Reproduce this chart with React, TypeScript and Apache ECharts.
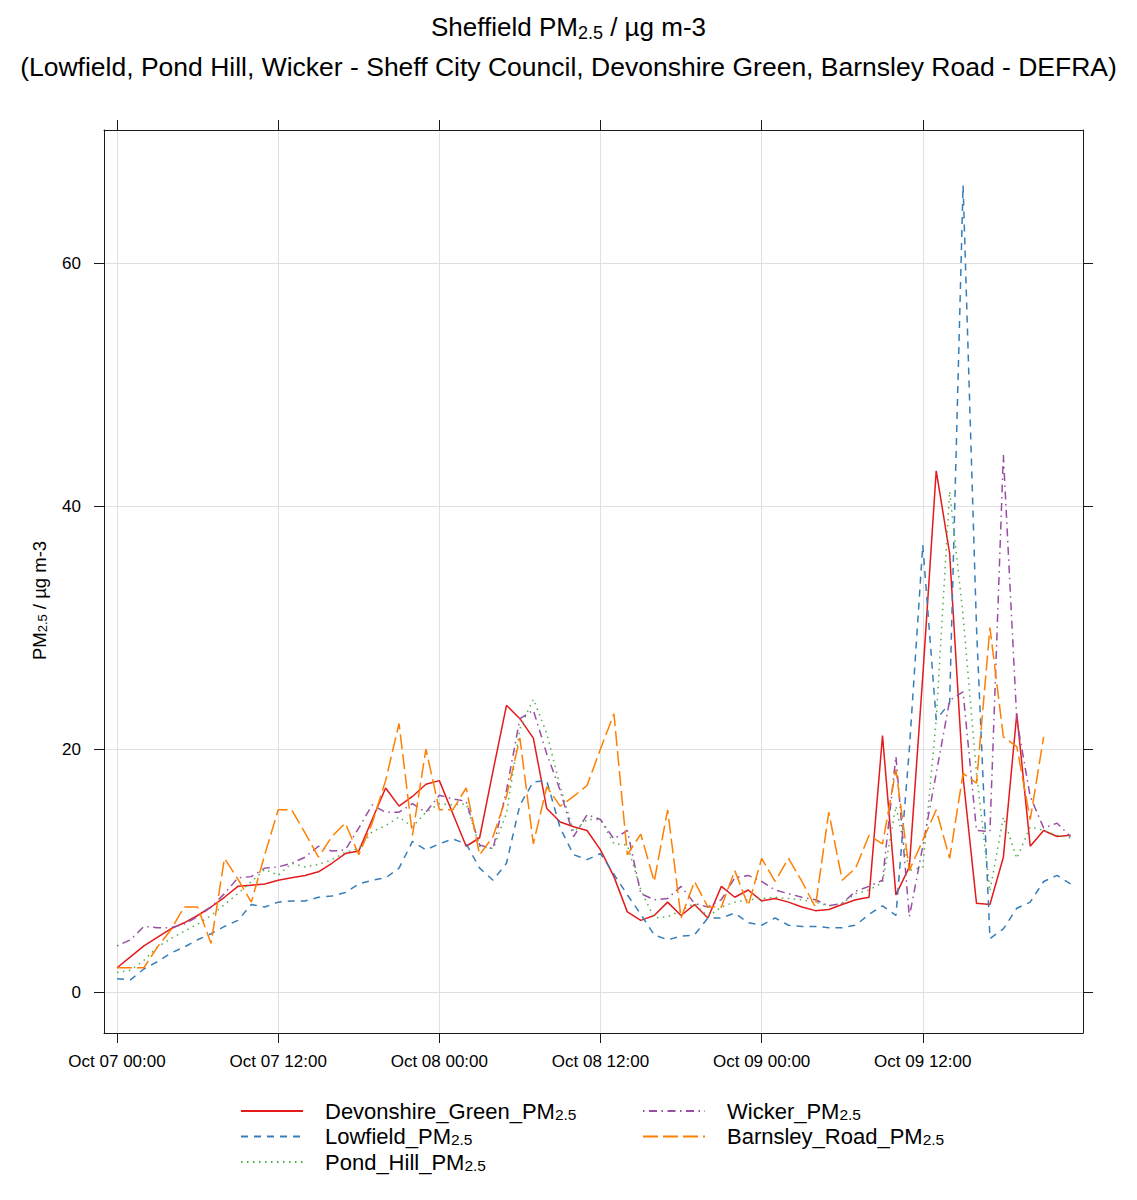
import React, { useEffect, useRef } from "react";
import * as echarts from "echarts";

const FONT = "'Liberation Sans', Arial, Helvetica, sans-serif";

const seriesNames = [
  "Devonshire_Green_PM2.5",
  "Lowfield_PM2.5",
  "Pond_Hill_PM2.5",
  "Wicker_PM2.5",
  "Barnsley_Road_PM2.5",
];
const seriesColors = ["#e41a1c", "#377eb8", "#4daf4a", "#984ea3", "#ff7f00"];

// hours since Oct 07 00:00
const hours = Array.from({ length: 72 }, (_, i) => i);

const devonshire = [
  2.0, 2.9, 3.8, 4.5, 5.2, 5.7, 6.3, 7.0, 7.8, 8.7, 8.8, 8.9,
  9.2, 9.4, 9.6, 9.9, 10.6, 11.4, 11.6, 14.2, 16.8, 15.3, 16.1, 17.1,
  17.4, 14.7, 12.0, 12.7, 18.2, 23.6, 22.5, 20.9, 15.1, 14.0, 13.6, 13.3,
  11.7, 9.5, 6.6, 5.9, 6.3, 7.4, 6.3, 7.2, 6.1, 8.7, 7.8, 8.4,
  7.5, 7.7, 7.4, 7.0, 6.7, 6.8, 7.2, 7.6, 7.8, 21.1, 8.0, 10.3,
  26.0, 42.9, 36.1, 17.7, 7.3, 7.2, 11.1, 22.9, 12.0, 13.3, 12.8, 12.9,
];
const lowfield = [
  1.1, 1.0, 1.9, 2.5, 3.2, 3.7, 4.3, 4.8, 5.4, 5.9, 7.2, 7.0,
  7.4, 7.5, 7.5, 7.8, 7.9, 8.2, 8.9, 9.2, 9.4, 10.2, 12.4, 11.7,
  12.2, 12.6, 12.2, 10.2, 9.2, 10.6, 15.4, 17.3, 17.4, 13.5, 11.3, 10.9,
  11.4, 9.7, 8.0, 6.4, 4.7, 4.3, 4.6, 4.7, 6.1, 6.1, 6.5, 5.7,
  5.5, 6.1, 5.5, 5.4, 5.4, 5.3, 5.3, 5.5, 6.4, 7.1, 6.3, 20.0,
  36.8, 22.4, 23.8, 66.4, 30.0, 4.4, 5.2, 6.9, 7.4, 9.1, 9.6, 8.9,
];
const pondHill = [
  1.6, 1.8, 2.6, 3.7, 4.4, 5.0, 5.6, 6.3, 7.2, 8.1, 9.1, 10.1,
  9.6, 10.6, 10.3, 10.5, 10.9, 11.5, 11.8, 13.2, 13.7, 14.4, 13.6, 14.8,
  15.5, 15.4, 15.5, 12.0, 11.8, 14.7, 21.7, 24.1, 21.3, 16.9, 13.2, 14.2,
  14.2, 12.2, 12.1, 8.4, 6.1, 6.2, 6.7, 7.3, 6.2, 7.0, 7.4, 7.6,
  7.7, 7.8, 7.7, 7.6, 7.4, 7.1, 7.3, 8.1, 8.4, 9.0, 15.3, 10.0,
  10.3, 22.4, 41.2, 31.0, 18.0, 8.3, 14.4, 11.0, 13.6, 13.3, 12.9, 12.7,
];
const wicker = [
  3.8, 4.3, 5.4, 5.3, 5.3, 5.6, 6.2, 7.0, 8.1, 9.4, 9.5, 10.2,
  10.3, 10.6, 11.1, 12.0, 11.6, 11.7, 13.5, 15.4, 14.8, 14.8, 15.5, 14.8,
  16.2, 15.9, 15.7, 12.1, 11.8, 16.6, 22.5, 23.2, 19.6, 16.6, 12.8, 14.6,
  14.2, 12.6, 13.3, 8.1, 7.6, 7.7, 8.7, 7.3, 7.0, 7.6, 9.4, 9.6,
  9.1, 8.4, 8.1, 7.8, 7.6, 7.1, 7.3, 8.3, 8.7, 9.2, 19.4, 6.2,
  12.0, 18.0, 24.0, 24.7, 13.3, 13.2, 44.2, 22.4, 16.1, 13.5, 13.9, 12.8,
];
const barnsleyRoad = [
  2.0, 2.0, 2.0, 3.7, 5.1, 7.0, 7.0, 4.0, 11.0, 9.3, 7.4, 11.3,
  15.0, 15.0, 13.1, 11.1, 12.8, 13.9, 11.3, 13.9, 17.4, 22.1, 12.9, 20.0,
  15.0, 15.0, 16.8, 11.3, 12.8, 16.1, 20.9, 12.2, 16.9, 15.3, 16.1, 17.0,
  20.0, 22.9, 11.3, 13.0, 9.1, 15.0, 6.1, 9.1, 7.0, 7.0, 10.0, 7.1,
  11.0, 9.1, 11.0, 9.1, 7.0, 14.8, 9.2, 10.2, 12.9, 12.2, 18.3, 10.0,
  12.5, 15.0, 11.0, 18.0, 17.2, 30.0, 21.0, 20.2, 14.2, 21.0, null, null,
];

const xTickHours = [0, 12, 24, 36, 48, 60];
const xTickLabels = [
  "Oct 07 00:00",
  "Oct 07 12:00",
  "Oct 08 00:00",
  "Oct 08 12:00",
  "Oct 09 00:00",
  "Oct 09 12:00",
];
const yTicks = [0, 20, 40, 60];

const X_MIN = -0.97;
const X_MAX = 71.93;
const Y_MIN = -3.37;
const Y_MAX = 70.95;

const dashes: (number[] | "solid")[] = [
  "solid",
  [7, 6],
  [1.5, 4.5],
  [1.5, 4.5, 8, 4.5],
  [15, 5],
];

const allValues = [devonshire, lowfield, pondHill, wicker, barnsleyRoad];

const subName = (n: string) => n.replace("PM2.5", "PM{sub|2.5}");

export default function App() {
  const ref = useRef<HTMLDivElement>(null);
  useEffect(() => {
    document.body.style.margin = "0";
    if (!ref.current) return;
    const chart = echarts.init(ref.current, undefined, { renderer: "svg" });
    const boxLine = { show: true, onZero: false, lineStyle: { color: "#1a1a1a", width: 1 } };
    const tickStyle = { color: "#1a1a1a", width: 1 };
    const gridLine = { show: true, lineStyle: { color: "#e0e0e0", width: 1 } };
    const legendText = {
      fontSize: 22,
      color: "#000",
      fontFamily: FONT,
      lineHeight: 22,
      padding: [0, 0, 0, 17],
      rich: { sub: { fontSize: 15.5, fontFamily: FONT, color: "#000", verticalAlign: "bottom", lineHeight: 10 } },
    };
    const legendBase = {
      orient: "vertical",
      top: 1095,
      itemWidth: 62,
      itemHeight: 14,
      itemGap: 3.5,
      itemStyle: { opacity: 0, borderWidth: 0 },
      textStyle: legendText,
      formatter: (n: string) => subName(n),
      selectedMode: false,
    };
    chart.setOption({
      animation: false,
      backgroundColor: "#ffffff",
      title: [
        {
          text: "Sheffield PM{sub|2.5} / µg m-3",
          left: "center",
          top: 7,
          textStyle: {
            fontSize: 26,
            fontWeight: "normal",
            color: "#000",
            fontFamily: FONT,
            lineHeight: 30,
            rich: { sub: { fontSize: 18, fontFamily: FONT, color: "#000", verticalAlign: "bottom", lineHeight: 12 } },
          },
        },
        {
          text: "(Lowfield, Pond Hill, Wicker - Sheff City Council, Devonshire Green, Barnsley Road - DEFRA)",
          left: "center",
          top: 47,
          textStyle: { fontSize: 26.5, fontWeight: "normal", color: "#000", fontFamily: FONT, lineHeight: 30 },
        },
      ],
      legend: [
        { ...legendBase, left: 235, data: seriesNames.slice(0, 3) },
        { ...legendBase, left: 637, data: seriesNames.slice(3) },
      ],
      grid: { left: 104, right: 54, top: 130, bottom: 167, containLabel: false },
      xAxis: [
        {
          type: "value",
          position: "bottom",
          min: X_MIN,
          max: X_MAX,
          axisLine: boxLine,
          axisTick: { show: true, customValues: xTickHours, length: 10, lineStyle: tickStyle },
          axisLabel: {
            show: true,
            customValues: xTickHours,
            margin: 20,
            fontSize: 17,
            color: "#000",
            fontFamily: FONT,
            formatter: (v: number) => xTickLabels[xTickHours.indexOf(Math.round(v))] ?? "",
          },
          splitLine: gridLine,
        },
        {
          type: "value",
          position: "top",
          min: X_MIN,
          max: X_MAX,
          axisLine: boxLine,
          axisTick: { show: true, customValues: xTickHours, length: 10, lineStyle: tickStyle },
          axisLabel: { show: false, customValues: xTickHours },
          splitLine: { show: false },
        },
      ],
      yAxis: [
        {
          type: "value",
          position: "left",
          min: Y_MIN,
          max: Y_MAX,
          axisLine: boxLine,
          axisTick: { show: true, customValues: yTicks, length: 10, lineStyle: tickStyle },
          axisLabel: { show: true, customValues: yTicks, margin: 23, fontSize: 17, color: "#000", fontFamily: FONT },
          splitLine: gridLine,
          name: "PM{sub|2.5} / µg m-3",
          nameLocation: "middle",
          nameGap: 55,
          nameRotate: 90,
          nameTextStyle: {
            fontSize: 18.5,
            color: "#000",
            fontFamily: FONT,
            lineHeight: 20,
            padding: [0, 38, 0, 0],
            rich: { sub: { fontSize: 13, fontFamily: FONT, color: "#000", verticalAlign: "bottom", lineHeight: 8 } },
          },
        },
        {
          type: "value",
          position: "right",
          min: Y_MIN,
          max: Y_MAX,
          axisLine: boxLine,
          axisTick: { show: true, customValues: yTicks, length: 10, lineStyle: tickStyle },
          axisLabel: { show: false, customValues: yTicks },
          splitLine: { show: false },
        },
      ],
      series: seriesNames.map((name, k) => ({
        type: "line",
        name,
        xAxisIndex: 0,
        yAxisIndex: 0,
        symbol: "none",
        showSymbol: false,
        connectNulls: false,
        silent: true,
        itemStyle: { color: seriesColors[k] },
        lineStyle: { color: seriesColors[k], width: 1.5, type: dashes[k] },
        data: hours.map((h, i) => [h, allValues[k][i] === null ? "-" : allValues[k][i]]),
      })),
    });
    return () => chart.dispose();
  }, []);
  return <div ref={ref} style={{ width: 1137, height: 1200 }} />;
}
